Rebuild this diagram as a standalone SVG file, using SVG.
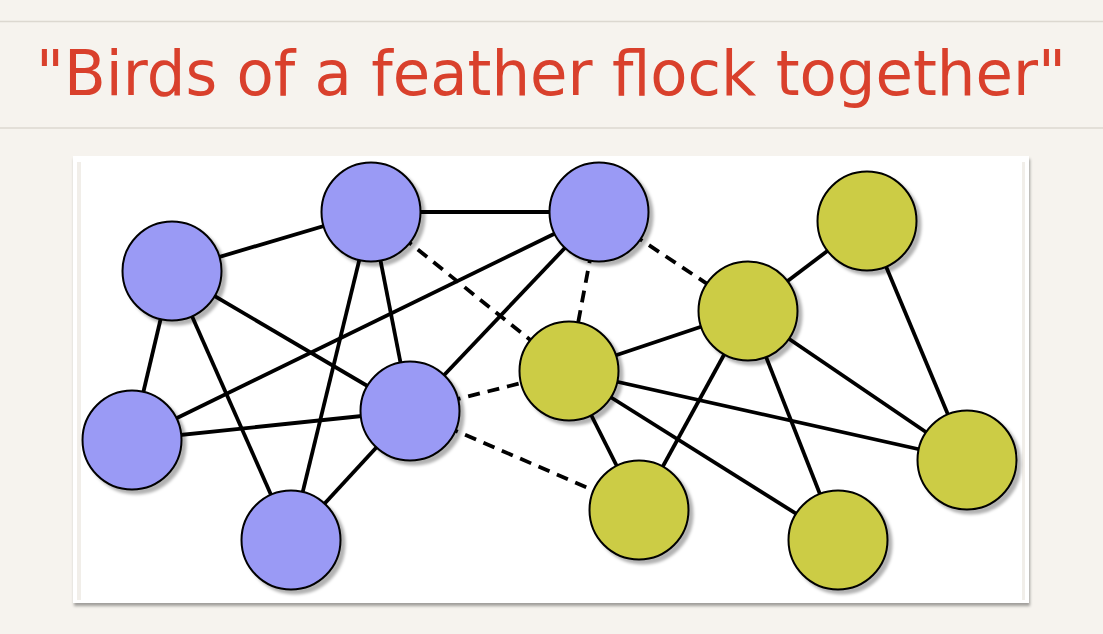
<svg xmlns="http://www.w3.org/2000/svg" width="1103" height="634" viewBox="0 0 1103 634">
<defs>
<filter id="sh" x="-30%" y="-30%" width="160%" height="160%">
<feGaussianBlur in="SourceAlpha" stdDeviation="1.5"/>
<feOffset dx="4" dy="4" result="b"/>
<feFlood flood-color="#000" flood-opacity="0.3"/>
<feComposite in2="b" operator="in"/>
<feMerge><feMergeNode/><feMergeNode in="SourceGraphic"/></feMerge>
</filter>
<filter id="fsh" x="-5%" y="-5%" width="110%" height="110%">
<feGaussianBlur in="SourceAlpha" stdDeviation="1.5"/>
<feOffset dx="1" dy="3" result="b"/>
<feFlood flood-color="#000" flood-opacity="0.35"/>
<feComposite in2="b" operator="in"/>
<feMerge><feMergeNode/><feMergeNode in="SourceGraphic"/></feMerge>
</filter>
</defs>
<style>
.e{stroke:#000;stroke-width:3.8;fill:none}
.d{stroke-dasharray:12 8}
.n{stroke:#000;stroke-width:2}
.b{fill:#9a9af5}
.g{fill:#cccc44}
.t{font-family:"DejaVu Sans","Liberation Sans",sans-serif;font-size:62px;fill:#d9402c}
</style>
<rect width="1103" height="634" fill="#f6f3ee"/>
<line x1="0" y1="21.5" x2="1103" y2="21.5" stroke="#dcd8d0" stroke-width="1.5"/>
<line x1="0" y1="128" x2="1103" y2="128" stroke="#dcd8d0" stroke-width="1.5"/>
<text class="t" x="36" y="95" textLength="1030" lengthAdjust="spacingAndGlyphs">"Birds of a feather flock together"</text>
<g id="frame">
<rect x="73" y="156" width="956" height="447" fill="#fff" filter="url(#fsh)"/>
<rect x="77" y="162" width="4" height="438" fill="#f1eee9"/>
<rect x="1022" y="162" width="3" height="438" fill="#f1eee9"/>
</g>
<g id="connectors">
<line class="e" x1="172" y1="271" x2="371" y2="212"/>
<line class="e" x1="371" y1="212" x2="599" y2="212"/>
<line class="e" x1="172" y1="271" x2="132" y2="440"/>
<line class="e" x1="172" y1="271" x2="291" y2="540"/>
<line class="e" x1="172" y1="271" x2="410" y2="411"/>
<line class="e" x1="371" y1="212" x2="410" y2="411"/>
<line class="e" x1="371" y1="212" x2="291" y2="540"/>
<line class="e" x1="599" y1="212" x2="132" y2="440"/>
<line class="e" x1="599" y1="212" x2="410" y2="411"/>
<line class="e" x1="132" y1="440" x2="410" y2="411"/>
<line class="e" x1="410" y1="411" x2="291" y2="540"/>
<line class="e" x1="867" y1="221" x2="748" y2="311"/>
<line class="e" x1="867" y1="221" x2="967" y2="460"/>
<line class="e" x1="748" y1="311" x2="569" y2="371"/>
<line class="e" x1="748" y1="311" x2="639" y2="510"/>
<line class="e" x1="748" y1="311" x2="838" y2="540"/>
<line class="e" x1="748" y1="311" x2="967" y2="460"/>
<line class="e" x1="569" y1="371" x2="967" y2="460"/>
<line class="e" x1="569" y1="371" x2="639" y2="510"/>
<line class="e" x1="569" y1="371" x2="838" y2="540"/>
<line class="e d" x1="371" y1="212" x2="569" y2="371"/>
<line class="e d" x1="599" y1="212" x2="569" y2="371"/>
<line class="e d" x1="599" y1="212" x2="748" y2="311"/>
<line class="e d" x1="410" y1="411" x2="569" y2="371"/>
<line class="e d" x1="410" y1="411" x2="639" y2="510"/>
</g>
<g filter="url(#sh)">
<g id="b1"><circle class="n b" cx="172" cy="271" r="49.5"/></g>
<g id="b2"><circle class="n b" cx="371" cy="212" r="49.5"/></g>
<g id="b3"><circle class="n b" cx="599" cy="212" r="49.5"/></g>
<g id="b4"><circle class="n b" cx="132" cy="440" r="49.5"/></g>
<g id="b5"><circle class="n b" cx="410" cy="411" r="49.5"/></g>
<g id="b6"><circle class="n b" cx="291" cy="540" r="49.5"/></g>
<g id="g1"><circle class="n g" cx="867" cy="221" r="49.5"/></g>
<g id="g2"><circle class="n g" cx="748" cy="311" r="49.5"/></g>
<g id="g3"><circle class="n g" cx="569" cy="371" r="49.5"/></g>
<g id="g4"><circle class="n g" cx="967" cy="460" r="49.5"/></g>
<g id="g5"><circle class="n g" cx="639" cy="510" r="49.5"/></g>
<g id="g6"><circle class="n g" cx="838" cy="540" r="49.5"/></g>
</g>
</svg>
